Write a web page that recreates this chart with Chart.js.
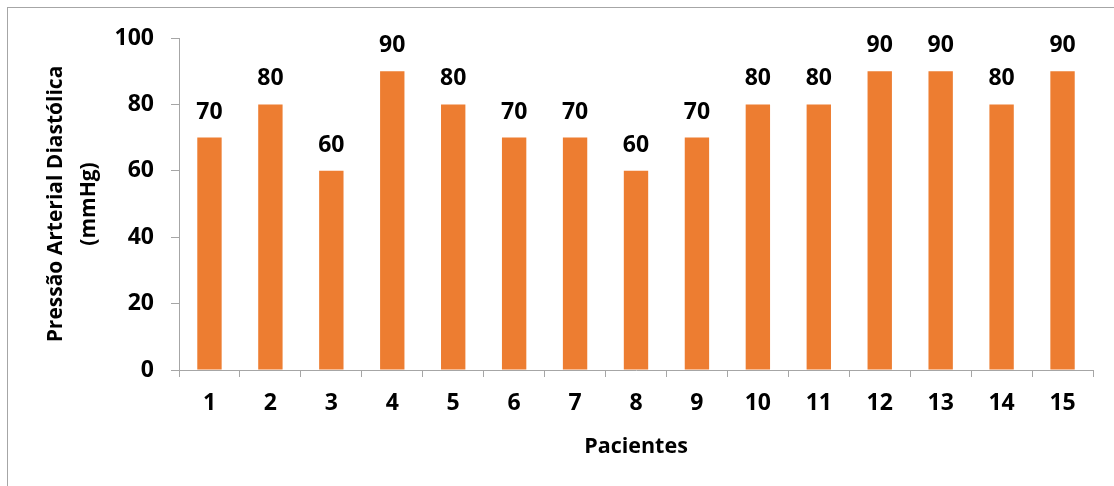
<!DOCTYPE html>
<html>
<head>
<meta charset="utf-8">
<script src="https://cdn.jsdelivr.net/npm/chart.js@4"></script>
<style>
  html, body { margin: 0; padding: 0; background: #fff; }
  #wrap { position: relative; width: 1114px; height: 486px; }
</style>
</head>
<body>
<div id="wrap"><canvas id="chart"></canvas></div>
<script>
const pacientes = ['1', '2', '3', '4', '5', '6', '7', '8', '9', '10', '11', '12', '13', '14', '15'];
const pressaoDiastolica = [70, 80, 60, 90, 80, 70, 70, 60, 70, 80, 80, 90, 90, 80, 90];
const yTicks = [0, 20, 40, 60, 80, 100];

const FONT = '"Open Sans", Lato, sans-serif';
const AXIS = '#A6A6A6';

// moldura cinza e rótulos de valor
const frame = {
    id: 'frame',
    beforeDraw(chart) {
        const c = chart.ctx;
        c.save();
        c.strokeStyle = '#A6A6A6';
        c.lineWidth = 1;
        c.strokeRect(7.5, 7.5, 1130, 500);
        c.restore();
    }
};

const valueLabels = {
    id: 'valueLabels',
    afterDatasetsDraw(chart) {
        const c = chart.ctx;
        const meta = chart.getDatasetMeta(0);
        c.save();
        c.font = 'bold 23px ' + FONT;
        c.fillStyle = '#000';
        c.textAlign = 'center';
        c.textBaseline = 'alphabetic';
        meta.data.forEach((bar, i) => {
            c.fillText(String(pressaoDiastolica[i]), bar.x, bar.y - 19);
        });
        c.restore();
    }
};

new Chart(document.getElementById('chart'), {
    type: 'bar',
    data: {
        labels: pacientes,
        datasets: [{
            data: pressaoDiastolica,
            backgroundColor: '#ED7D31',
            categoryPercentage: 1,
            barPercentage: 0.4
        }]
    },
    options: {
        responsive: true,
        maintainAspectRatio: false,
        animation: false,
        layout: { padding: { top: 38, right: 21, bottom: 0, left: 0 } },
        plugins: { legend: { display: false }, tooltip: { enabled: false } },
        scales: {
            x: {
                afterFit: s => { s.height = 116; },
                grid: { display: true, drawOnChartArea: false, drawTicks: true, tickLength: 7, color: AXIS },
                border: { display: true, color: AXIS },
                ticks: { color: '#000', font: { family: FONT, size: 23, weight: 'bold' }, padding: 13 },
                title: {
                    display: true, text: 'Pacientes', color: '#000',
                    font: { family: FONT, size: 21.5, weight: 'bold' },
                    padding: { top: 0, bottom: 26 }
                }
            },
            y: {
                min: 0, max: 100,
                afterFit: s => { s.width = 179; },
                afterBuildTicks: s => { s.ticks = yTicks.map(v => ({ value: v })); },
                grid: { display: true, drawOnChartArea: false, drawTicks: true, tickLength: 8, color: AXIS },
                border: { display: true, color: AXIS },
                ticks: { color: '#000', font: { family: FONT, size: 23, weight: 'bold' }, padding: 17 },
                title: {
                    display: true, text: ['Pressão Arterial Diastólica', '(mmHg)'], color: '#000',
                    font: { family: FONT, size: 21, weight: 'bold', lineHeight: 1.6 },
                    padding: { top: 39, bottom: 0 }
                }
            }
        }
    },
    plugins: [frame, valueLabels]
});
</script>
</body>
</html>
